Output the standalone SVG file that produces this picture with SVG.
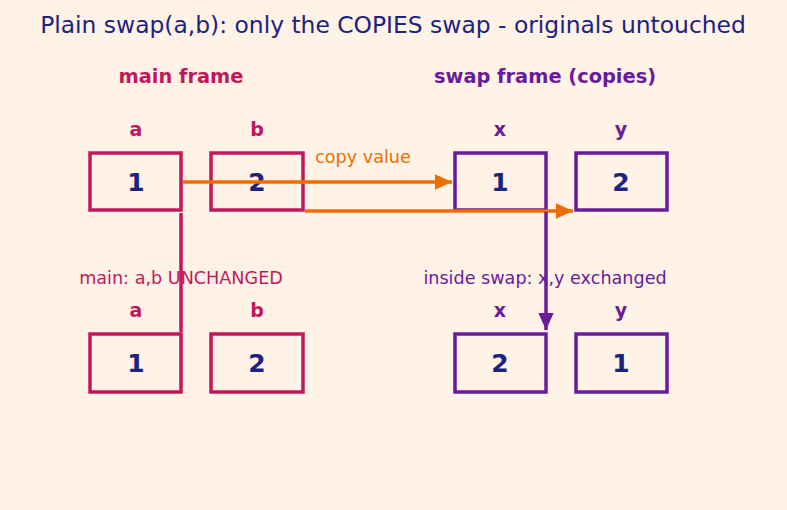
<svg xmlns="http://www.w3.org/2000/svg" width="787" height="510" viewBox="0 0 787 510">
<defs>
<style>
text{font-family:"DejaVu Sans","Liberation Sans",sans-serif;text-anchor:middle}
.title{font-size:23.4px;fill:#1a237e}
.hdr{font-size:19.4px;font-weight:bold}
.lbl{font-size:19px;font-weight:bold}
.val{font-size:25px;font-weight:bold;fill:#1a237e}
.note{font-size:17.6px}
.m{fill:#c2185b}
.p{fill:#6a1b9a}
.o{fill:#ef6c00}
.bm{fill:none;stroke:#c2185b;stroke-width:3.5}
.bp{fill:none;stroke:#6a1b9a;stroke-width:3.5}
.eo{stroke:#ef6c00;stroke-width:3.5;fill:none}
.em{stroke:#c2185b;stroke-width:3.5;fill:none}
.ep{stroke:#6a1b9a;stroke-width:3.5;fill:none}
</style>
<marker id="ao" viewBox="0 0 10 10" refX="10" refY="5" markerWidth="5" markerHeight="4.5" markerUnits="strokeWidth" orient="auto" preserveAspectRatio="none"><path d="M0,0 L10,5 L0,10 z" fill="#ef6c00"/></marker>
<marker id="ap" viewBox="0 0 10 10" refX="10" refY="5" markerWidth="5" markerHeight="4.5" markerUnits="strokeWidth" orient="auto" preserveAspectRatio="none"><path d="M0,0 L10,5 L0,10 z" fill="#6a1b9a"/></marker>
</defs>
<rect width="787" height="510" fill="#fff2e7"/>
<text class="title" x="393" y="33">Plain swap(a,b): only the COPIES swap - originals untouched</text>
<text class="hdr m" x="181" y="83">main frame</text>
<text class="hdr p" x="545" y="83">swap frame (copies)</text>
<g id="a1"><text class="lbl m" x="136" y="136">a</text><rect class="bm" x="90" y="153" width="91" height="57"/><text class="val" x="136" y="191">1</text></g>
<g id="b1"><text class="lbl m" x="257" y="136">b</text><rect class="bm" x="211" y="153" width="92" height="57"/><text class="val" x="257" y="191">2</text></g>
<g id="x1"><text class="lbl p" x="500" y="136">x</text><rect class="bp" x="455" y="153" width="91" height="57"/><text class="val" x="500" y="191">1</text></g>
<g id="y1"><text class="lbl p" x="621" y="136">y</text><rect class="bp" x="576" y="153" width="91" height="57"/><text class="val" x="621" y="191">2</text></g>
<g id="a2"><text class="lbl m" x="136" y="317">a</text><rect class="bm" x="90" y="334" width="91" height="58"/><text class="val" x="136" y="372">1</text></g>
<g id="b2"><text class="lbl m" x="257" y="317">b</text><rect class="bm" x="211" y="334" width="92" height="58"/><text class="val" x="257" y="372">2</text></g>
<g id="x2"><text class="lbl p" x="500" y="317">x</text><rect class="bp" x="455" y="334" width="91" height="58"/><text class="val" x="500" y="372">2</text></g>
<g id="y2"><text class="lbl p" x="621" y="317">y</text><rect class="bp" x="576" y="334" width="91" height="58"/><text class="val" x="621" y="372">1</text></g>
<g id="connectors">
<line class="eo" x1="183" y1="182" x2="452" y2="182" marker-end="url(#ao)"/>
<line class="eo" x1="305" y1="211" x2="573" y2="211" marker-end="url(#ao)"/>
<line class="em" x1="181" y1="213" x2="181" y2="332"/>
<line class="ep" x1="546" y1="212" x2="546" y2="330" marker-end="url(#ap)"/>
</g>
<text class="note o" x="363" y="163">copy value</text>
<text class="note m" x="181" y="284">main: a,b UNCHANGED</text>
<text class="note p" x="545" y="284">inside swap: x,y exchanged</text>
</svg>
